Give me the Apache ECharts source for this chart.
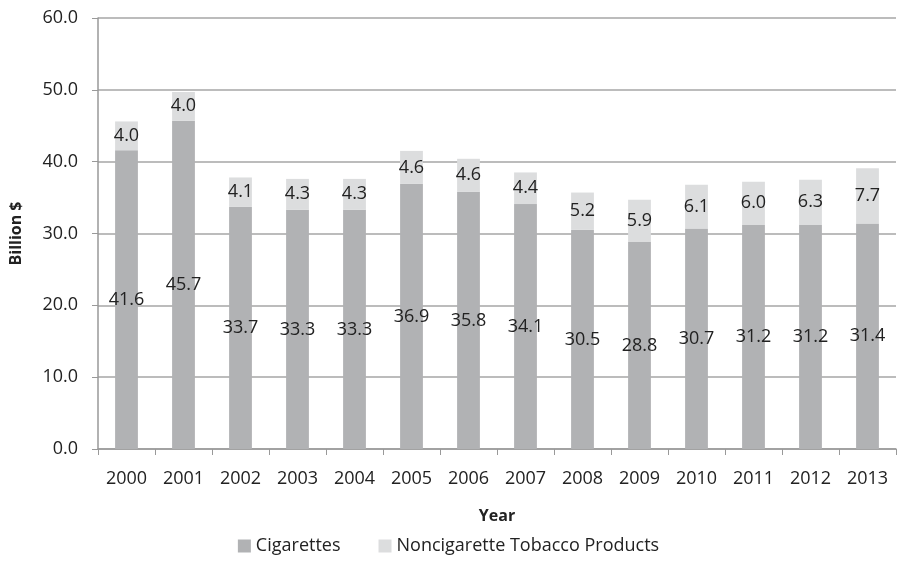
<!DOCTYPE html>
<html>
<head>
<meta charset="utf-8">
<script src="https://cdn.jsdelivr.net/npm/echarts@6/dist/echarts.min.js"></script>
<style>
  html, body { margin: 0; padding: 0; background: #fff; }
  #chart { width: 897px; height: 583px; }
</style>
</head>
<body>
<div id="chart"></div>
<script>
const years = ['2000', '2001', '2002', '2003', '2004', '2005', '2006', '2007', '2008', '2009', '2010', '2011', '2012', '2013']
const cigarettes = [41.6, 45.7, 33.7, 33.3, 33.3, 36.9, 35.8, 34.1, 30.5, 28.8, 30.7, 31.2, 31.2, 31.4]
const noncigarette = [4.0, 4.0, 4.1, 4.3, 4.3, 4.6, 4.6, 4.4, 5.2, 5.9, 6.1, 6.0, 6.3, 7.7]
const yTicks = [0, 10, 20, 30, 40, 50, 60]

const font = '"Open Sans", Lato, sans-serif'
const chart = echarts.init(document.getElementById('chart'))

const option = {
  animation: false,
  textStyle: { fontFamily: font },
  grid: { left: 98, right: 1, top: 18, bottom: 134 },
  legend: {
    bottom: 23,
    left: 'center',
    itemWidth: 13,
    itemHeight: 13,
    itemGap: 38,
    icon: 'rect',
    textStyle: { fontSize: 18, color: '#222', fontFamily: font },
    data: ['Cigarettes', 'Noncigarette Tobacco Products']
  },
  xAxis: {
    type: 'category',
    data: years,
    name: 'Year',
    nameLocation: 'middle',
    nameGap: 59,
    nameTextStyle: { fontSize: 16, fontWeight: 'bold', color: '#222' },
    axisLine: { lineStyle: { color: '#999', width: 1.5 } },
    axisTick: { show: true, length: 6, lineStyle: { color: '#999' } },
    axisLabel: { fontSize: 18, color: '#222', margin: 21 }
  },
  yAxis: {
    type: 'value',
    min: yTicks[0],
    max: yTicks[yTicks.length - 1],
    interval: 10,
    name: 'Billion $',
    nameLocation: 'middle',
    nameGap: 74,
    nameTextStyle: { fontSize: 16, fontWeight: 'bold', color: '#222' },
    axisLine: { show: true, lineStyle: { color: '#999', width: 1.5 } },
    axisTick: { show: true, length: 6, lineStyle: { color: '#999' } },
    axisLabel: { fontSize: 18, color: '#222', margin: 20, formatter: v => v.toFixed(1) },
    splitLine: { lineStyle: { color: '#a6a6a6', width: 1.5 } }
  },
  series: [
    {
      name: 'Cigarettes',
      type: 'bar',
      stack: 'total',
      barWidth: '40%',
      data: cigarettes,
      itemStyle: { color: '#b1b2b4' },
      label: {
        show: true,
        position: 'inside',
        fontSize: 18,
        color: '#222',
        formatter: p => p.value.toFixed(1)
      }
    },
    {
      name: 'Noncigarette Tobacco Products',
      type: 'bar',
      stack: 'total',
      barWidth: '40%',
      data: noncigarette,
      itemStyle: { color: '#dcddde' },
      label: {
        show: true,
        position: 'inside',
        fontSize: 18,
        color: '#222',
        formatter: p => p.value.toFixed(1)
      }
    }
  ]
}

chart.setOption(option)
</script>
</body>
</html>
